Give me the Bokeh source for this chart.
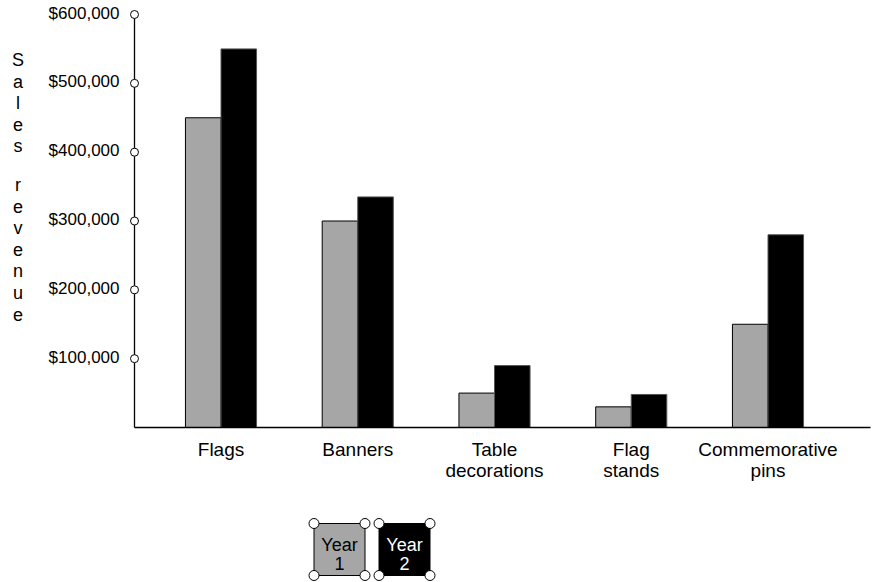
from bokeh.plotting import figure
from bokeh.models import Range1d
from bokeh.core.properties import value
from bokeh.embed import file_html
from bokeh.resources import INLINE

# ---------------- data ----------------
categories = ["Flags", "Banners", "Table\ndecorations", "Flag\nstands", "Commemorative\npins"]
year1 = [450000, 300000, 50000, 30000, 150000]
year2 = [550000, 335000, 90000, 48000, 280000]
y_ticks = [100000, 200000, 300000, 400000, 500000, 600000]
y_tick_labels = ["$100,000", "$200,000", "$300,000", "$400,000", "$500,000", "$600,000"]
series_names = ["Year\n1", "Year\n2"]
series_colors = ["#a6a6a6", "#000000"]
series_text_colors = ["#000000", "#ffffff"]
axis_title = "Sales revenue"

FONT = value("Liberation Sans")

# ---------------- layout (pixels, page coordinates) ----------------
W, H = 884, 582
MARGIN = 0
CAT_PX = 136.75            # px per category
CAT0_PAGE_X = 220.5        # page x of first category centre
ZERO_PAGE_Y = 427          # page y of value 0
PX_PER_UNIT = 413 / 600000.0
FIX = 7.5                  # svg text baseline correction (px, upward)

X0 = -(CAT0_PAGE_X - MARGIN) / CAT_PX
X1 = X0 + W / CAT_PX
Y1 = (ZERO_PAGE_Y - MARGIN) / PX_PER_UNIT
Y0 = Y1 - H / PX_PER_UNIT


def dx(page_x):
    return X0 + (page_x - MARGIN) / CAT_PX


def dy(page_y):
    return Y1 - (page_y - MARGIN) / PX_PER_UNIT


p = figure(width=W, height=H, x_range=Range1d(X0, X1), y_range=Range1d(Y0, Y1),
           output_backend="svg", toolbar_location=None,
           x_axis_location=None, y_axis_location=None, min_border=0)
p.outline_line_color = None
p.grid.visible = False

idx = list(range(len(categories)))
off, bw = 0.13, 0.26

# bars
p.vbar(x=[i - off for i in idx], top=year1, width=bw, bottom=0,
       fill_color=series_colors[0], line_color="black", line_width=1)
p.vbar(x=[i + off for i in idx], top=year2, width=bw, bottom=0,
       fill_color=series_colors[1], line_color="#555555", line_width=1)

# axes
ax_x = dx(134)
ax_end = dx(870)
p.segment(x0=[ax_x], y0=[0], x1=[ax_x], y1=[max(y_ticks)], line_color="black", line_width=1.3)
p.segment(x0=[ax_x], y0=[0], x1=[ax_end], y1=[0], line_color="black", line_width=1.3)
p.scatter(x=[ax_x] * len(y_ticks), y=y_ticks, size=8, marker="circle",
          fill_color="white", line_color="black", line_width=1)

# y tick labels
p.text(x=[dx(119)] * len(y_ticks), y=[t - (6 - FIX) / PX_PER_UNIT for t in y_ticks], text=y_tick_labels,
       text_align="right", text_baseline="alphabetic",
       text_font=FONT, text_font_size="17px", text_color="black")

# category labels
lab_x, lab_y, lab_t = [], [], []
for i, c in zip(idx, categories):
    for k, line in enumerate(c.split("\n")):
        lab_x.append(i)
        lab_y.append(dy(456 + 21.7 * k - FIX))
        lab_t.append(line)
p.text(x=lab_x, y=lab_y, text=lab_t, text_align="center", text_baseline="alphabetic",
       text_font=FONT, text_font_size="19px", text_color="black")

# vertical axis title, one letter per line
letters, ly = [], []
base = 67.0
k = 0
for ch in axis_title:
    if ch == " ":
        base += 17
        continue
    letters.append(ch)
    ly.append(dy(base + 21.6 * k - FIX))
    k += 1
p.text(x=[dx(17.5)] * len(letters), y=ly, text=letters, text_align="center", text_baseline="alphabetic",
       text_font=FONT, text_font_size="18px", text_color="black")

# legend
box_cx = [339, 404]
box_top, box_bot = 523, 575
box_w = 51
for cx, col, tcol, name in zip(box_cx, series_colors, series_text_colors, series_names):
    p.rect(x=[dx(cx)], y=[dy((box_top + box_bot) / 2)], width=box_w, height=box_bot - box_top,
           width_units="screen", height_units="screen",
           fill_color=col, line_color="black", line_width=1)
    lines = name.split("\n")
    p.text(x=[dx(cx)] * len(lines), y=[dy(552 + 18 * j - FIX) for j in range(len(lines))], text=lines,
           text_align="center", text_baseline="alphabetic",
           text_font=FONT, text_font_size="18px", text_color=tcol)
    xs = [cx - box_w / 2, cx + box_w / 2, cx - box_w / 2, cx + box_w / 2]
    ys = [box_top, box_top, box_bot, box_bot]
    p.scatter(x=[dx(v) for v in xs], y=[dy(v) for v in ys], size=10, marker="circle",
              fill_color="white", line_color="black", line_width=1)

open("out.html", "w").write(file_html(p, INLINE))
